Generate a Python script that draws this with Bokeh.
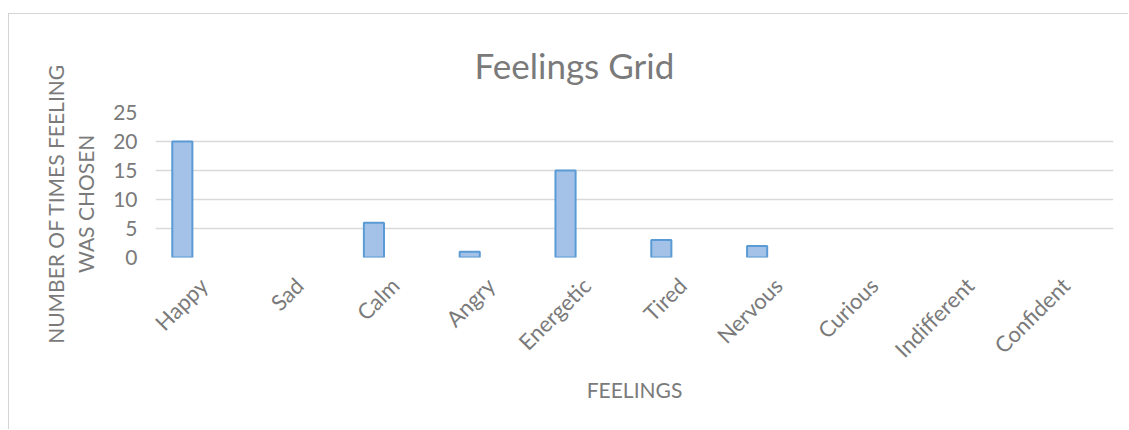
import math
from bokeh.plotting import figure
from bokeh.models import ColumnDataSource
from bokeh.transform import dodge
from bokeh.embed import file_html
from bokeh.resources import INLINE

feelings = ["Happy", "Sad", "Calm", "Angry", "Energetic", "Tired",
            "Nervous", "Curious", "Indifferent", "Confident"]
counts = [20, 0, 6, 1, 15, 3, 2, 0, 0, 0]
y_ticks = [0, 5, 10, 15, 20, 25]
title_text = "Feelings Grid"
y_title = ["NUMBER OF TIMES FEELING", "WAS CHOSEN"]
x_title = "FEELINGS"

FONT = "Lato"
GRAY = "#7a7a7a"

shown = [(f, c) for f, c in zip(feelings, counts) if c > 0]
src = ColumnDataSource(dict(f=[s[0] for s in shown], c=[s[1] for s in shown]))

p = figure(x_range=feelings, y_range=(0, 25), width=1120, height=416,
           output_backend="svg", toolbar_location=None,
           min_border_left=146, min_border_right=16,
           min_border_top=98, min_border_bottom=173,
           margin=(13, 0, 0, 8),
           styles={"border-top": "1px solid #d4d4d4",
                   "border-left": "1px solid #d4d4d4"})
p.outline_line_color = None

p.vbar(x=dodge("f", -0.22, range=p.x_range), top="c", bottom=0, width=0.21,
       source=src, fill_color="#a4c2e8", line_color="#5b9bd5", line_width=2)

p.xgrid.grid_line_color = None
p.ygrid.grid_line_color = "#d9d9d9"
p.ygrid.grid_line_width = 1.5
p.yaxis.ticker = y_ticks

for ax in (p.xaxis, p.yaxis):
    ax.axis_line_color = None
    ax.major_tick_line_color = None
    ax.minor_tick_line_color = None
    ax.major_label_text_font = FONT
    ax.major_label_text_color = GRAY
    ax.axis_label_text_font = FONT
    ax.axis_label_text_color = GRAY
    ax.axis_label_text_font_style = "normal"
    ax.axis_label_text_font_size = "21px"

p.yaxis.major_label_text_font_size = "21px"
p.xaxis.major_label_text_font_size = "22px"
p.yaxis.major_label_standoff = 12
p.xaxis.major_label_orientation = math.pi / 4
p.xaxis.major_label_standoff = 18

pad = "\u00a0" * 7
p.yaxis.axis_label = "\n".join(t + pad for t in y_title)
p.yaxis.axis_label_text_line_height = 1.2
p.yaxis.axis_label_standoff = 12

p.xaxis.axis_label = x_title
p.xaxis.axis_label_standoff = 2

p.title.text = title_text
p.title.align = "left"
p.title.offset = 319
p.title.text_font = FONT
p.title.text_font_size = "35px"
p.title.text_font_style = "normal"
p.title.text_color = GRAY
p.title.standoff = 54

open("out.html", "w").write(file_html(p, INLINE))
